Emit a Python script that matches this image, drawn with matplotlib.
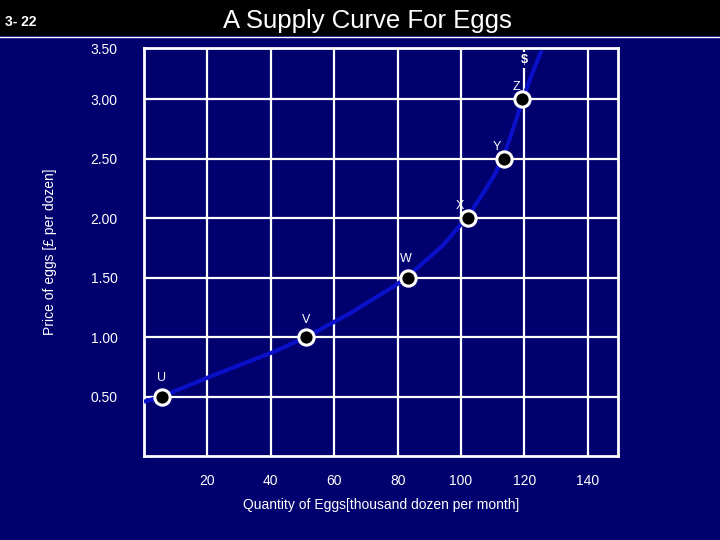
import numpy as np
import matplotlib.pyplot as plt
from matplotlib.patches import Rectangle

plt.rcParams['font.family'] = ['Liberation Sans', 'DejaVu Sans']

navy = '#00006e'

# supply curve (quantity, price)
curve_qty = [0, 5.6, 20.8, 41.6, 51.1, 60.5, 65.0, 79.5, 83.2, 94.4, 102.3,
             107.0, 110.7, 113.5, 116.3, 119.1, 121.9, 125.4]
curve_price = [0.456, 0.50, 0.667, 0.883, 1.00, 1.135, 1.20, 1.438, 1.51, 1.774,
               2.02, 2.21, 2.37, 2.525, 2.74, 2.97, 3.18, 3.41]

# labelled points
point_names = ['U', 'V', 'W', 'X', 'Y', 'Z']
point_qty = [5.6, 51.1, 83.2, 102.3, 113.5, 119.1]
point_price = [0.50, 1.00, 1.50, 2.00, 2.50, 3.00]

qty_ticks = [20, 40, 60, 80, 100, 120, 140]
price_ticks = [0.5, 1.0, 1.5, 2.0, 2.5, 3.0]
price_labels = ['0.50', '1.00', '1.50', '2.00', '2.50', '3.00', '3.50']

fig = plt.figure(figsize=(7.2, 5.4), dpi=100, facecolor=navy)

# title bar
fig.patches.append(Rectangle((0, 1 - 36/540), 1, 36/540, transform=fig.transFigure,
                             facecolor='black', edgecolor='none', zorder=0))
fig.add_artist(plt.Line2D([0, 1], [1 - 37/540, 1 - 37/540], transform=fig.transFigure,
                          color='white', lw=1))
fig.text(0.511, 1 - 21/540, 'A Supply Curve For Eggs', color='white', fontsize=18.5,
         ha='center', va='center')
fig.text(0.007, 1 - 22/540, '3- 22', color='white', fontsize=10, fontweight='bold',
         ha='left', va='center')

ax = fig.add_axes([144/720, 1 - 456/540, 474/720, 408/540])
ax.set_facecolor(navy)
ymax = 3.43
ax.set_xlim(0, 149.5)
ax.set_ylim(0, ymax)

ax.set_xticks(qty_ticks)
ax.set_xticklabels([str(t) for t in qty_ticks])
ax.set_yticks(price_ticks + [ymax])
ax.set_yticklabels(price_labels)
ax.tick_params(length=0, colors='white', labelsize=10)
ax.tick_params(axis='y', pad=19)
ax.tick_params(axis='x', pad=13)
ax.grid(True, color='white', lw=1.6)
ax.set_axisbelow(True)
for s in ax.spines.values():
    s.set_color('white')
    s.set_linewidth(2)

ax.plot(curve_qty, curve_price, color='#0a10c8', lw=3, solid_capstyle='butt',
        solid_joinstyle='round', zorder=3)
ax.plot(point_qty, point_price, 'o', ms=11, mfc='black', mec='white', mew=2.2,
        linestyle='none', zorder=4)

offsets = [(0, 13.2), (0, 12.5), (-1.4, 13.2), (-6, 8.5), (-5, 8.5), (-4, 8.5)]
for name, q, p, off in zip(point_names, point_qty, point_price, offsets):
    ax.annotate(name, (q, p), xytext=off, textcoords='offset points',
                color='white', fontsize=9, ha='center', va='center', zorder=5)

ax.text(120, 3.33, '$', color='white', fontsize=9, fontweight='bold',
        ha='center', va='center', zorder=5,
        bbox=dict(facecolor=navy, edgecolor='none', pad=1.5))

ax.set_xlabel('Quantity of Eggs[thousand dozen per month]', color='white', fontsize=10,
              labelpad=7)
ax.set_ylabel('Price of eggs [£ per dozen]', color='white', fontsize=10, labelpad=24)

fig.savefig('out.png', dpi=100, facecolor=navy)
